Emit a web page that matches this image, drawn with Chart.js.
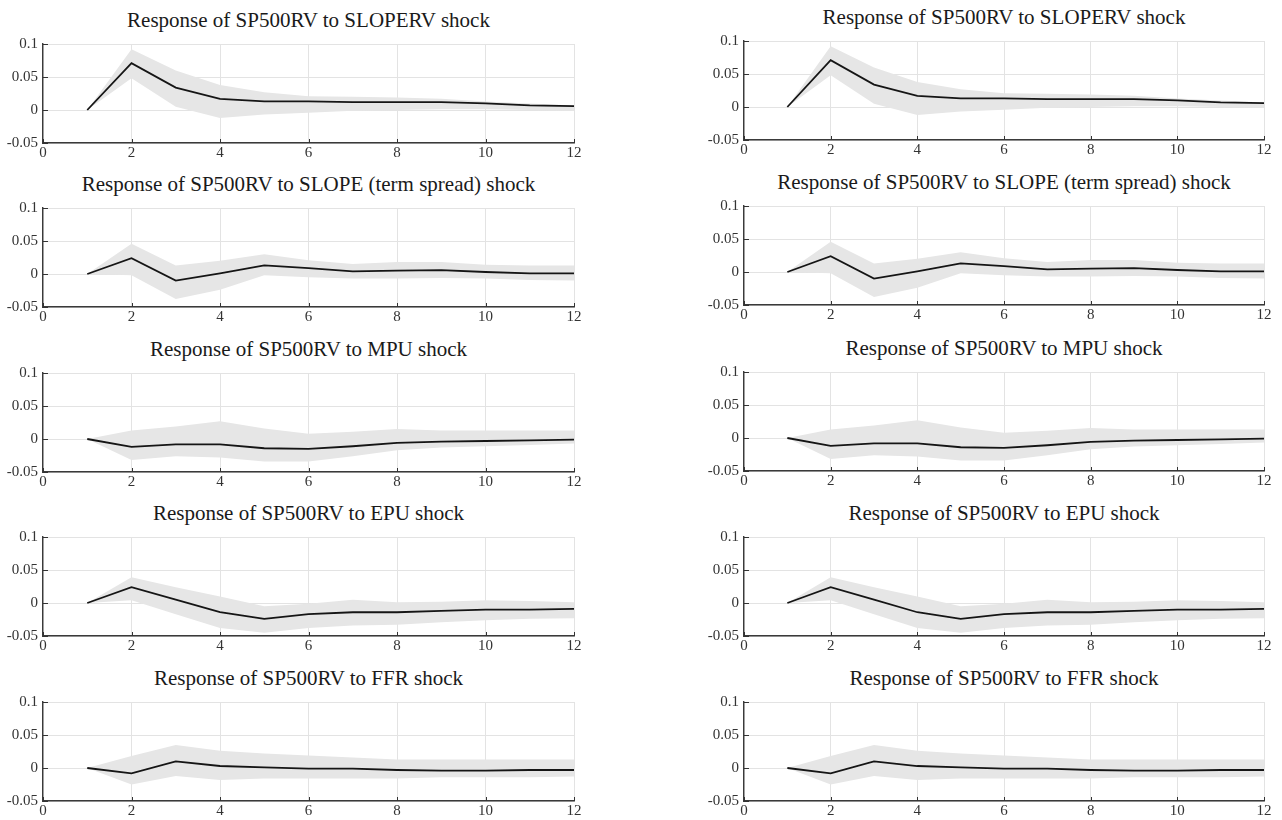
<!DOCTYPE html>
<html>
<head>
<meta charset="utf-8">
<script src="https://cdn.jsdelivr.net/npm/chart.js@4/dist/chart.umd.min.js"></script>
<style>
  body { margin: 0; background: #fff; width: 1282px; height: 820px; position: relative; overflow: hidden; }
  .panel-title { position: absolute; text-align: center; font-family: "Liberation Serif", serif; font-size: 21px; line-height: 20px; color: #1a1a1a; white-space: nowrap; }
  .panel { position: absolute; }
</style>
</head>
<body>
<script>
// horizons
const horizons = [1, 2, 3, 4, 5, 6, 7, 8, 9, 10, 11, 12];
const xTicks = [0, 2, 4, 6, 8, 10, 12];
const yTicks = [-0.05, 0, 0.05, 0.1];

const titles = [
    "Response of SP500RV to SLOPERV shock",
    "Response of SP500RV to SLOPE (term spread) shock",
    "Response of SP500RV to MPU shock",
    "Response of SP500RV to EPU shock",
    "Response of SP500RV to FFR shock"
];

// point responses
const irfSloperv = [0, 0.071, 0.034, 0.017, 0.013, 0.013, 0.012, 0.012, 0.012, 0.010, 0.007, 0.006];
const irfSlope   = [0, 0.024, -0.010, 0.001, 0.013, 0.009, 0.004, 0.005, 0.006, 0.003, 0.001, 0.001];
const irfMpu     = [0, -0.012, -0.008, -0.008, -0.014, -0.015, -0.011, -0.006, -0.004, -0.003, -0.002, -0.001];
const irfEpu     = [0, 0.024, 0.005, -0.014, -0.024, -0.017, -0.014, -0.014, -0.012, -0.010, -0.010, -0.009];
const irfFfr     = [0, -0.008, 0.010, 0.003, 0.001, -0.001, -0.001, -0.003, -0.004, -0.004, -0.003, -0.003];

// upper bands
const upSloperv = [0, 0.092, 0.060, 0.038, 0.027, 0.021, 0.020, 0.019, 0.017, 0.013, 0.010, 0.007];
const upSlope   = [0, 0.046, 0.013, 0.020, 0.030, 0.021, 0.015, 0.018, 0.018, 0.014, 0.013, 0.013];
const upMpu     = [0, 0.013, 0.019, 0.027, 0.016, 0.008, 0.011, 0.015, 0.013, 0.013, 0.013, 0.013];
const upEpu     = [0, 0.039, 0.024, 0.010, -0.005, -0.001, 0.005, 0.001, 0.002, 0.004, 0.003, 0.001];
const upFfr     = [0, 0.018, 0.035, 0.026, 0.022, 0.019, 0.016, 0.013, 0.013, 0.013, 0.013, 0.013];

// lower bands
const loSloperv = [0, 0.048, 0.005, -0.012, -0.007, -0.004, -0.001, 0.000, 0.001, 0.001, 0.000, -0.001];
const loSlope   = [0, -0.002, -0.038, -0.024, -0.002, -0.005, -0.007, -0.007, -0.006, -0.007, -0.009, -0.010];
const loMpu     = [0, -0.032, -0.026, -0.028, -0.034, -0.034, -0.026, -0.017, -0.013, -0.011, -0.009, -0.007];
const loEpu     = [0, 0.004, -0.017, -0.038, -0.045, -0.038, -0.034, -0.033, -0.029, -0.026, -0.024, -0.023];
const loFfr     = [0, -0.025, -0.012, -0.018, -0.016, -0.016, -0.016, -0.016, -0.014, -0.014, -0.014, -0.013];

const irfs = [irfSloperv, irfSlope, irfMpu, irfEpu, irfFfr];
const ups = [upSloperv, upSlope, upMpu, upEpu, upFfr];
const los = [loSloperv, loSlope, loMpu, loEpu, loFfr];

// panel geometry (plot area)
const columns = [
    { left: 43, width: 531, tops: [38, 202, 367, 531, 696] },
    { left: 744, width: 520, tops: [35, 200, 366, 531, 696] }
];
const plotH = 105;
const axisW = 43, axisH = 20, padTop = 8, padRight = 14;

// small inward tick marks like matlab
const inwardTicks = {
    id: 'inwardTicks',
    afterDraw(chart) {
        let ctx = chart.ctx;
        let a = chart.chartArea;
        let xs = chart.scales.x, ys = chart.scales.y;
        ctx.save();
        ctx.strokeStyle = '#333';
        ctx.lineWidth = 1;
        ctx.beginPath();
        xTicks.forEach(v => {
            let px = Math.round(xs.getPixelForValue(v)) + 0.5;
            ctx.moveTo(px, a.bottom);
            ctx.lineTo(px, a.bottom - 4);
        });
        yTicks.forEach(v => {
            let py = Math.round(ys.getPixelForValue(v)) + 0.5;
            ctx.moveTo(a.left, py);
            ctx.lineTo(a.left + 5, py);
        });
        ctx.stroke();
        ctx.restore();
    }
};

function toPoints(arr) {
    return horizons.map((h, i) => ({ x: h, y: arr[i] }));
}

function makePanel(col, row) {
    let c = columns[col];
    let top = c.tops[row];

    let t = document.createElement('div');
    t.className = 'panel-title';
    t.style.left = c.left + 'px';
    t.style.width = c.width + 'px';
    t.style.top = (top - 28) + 'px';
    t.innerText = titles[row];
    document.body.appendChild(t);

    let wrap = document.createElement('div');
    wrap.className = 'panel';
    let w = axisW + c.width + padRight;
    let h = padTop + plotH + axisH;
    wrap.style.left = (c.left - axisW) + 'px';
    wrap.style.top = (top - padTop) + 'px';
    wrap.style.width = w + 'px';
    wrap.style.height = h + 'px';
    let canvas = document.createElement('canvas');
    wrap.appendChild(canvas);
    document.body.appendChild(wrap);

    new Chart(canvas.getContext('2d'), {
        type: 'line',
        data: {
            datasets: [
                {
                    data: toPoints(irfs[row]),
                    borderColor: '#151515',
                    borderWidth: 1.8,
                    pointRadius: 0,
                    fill: false,
                    tension: 0,
                    order: 0
                },
                {
                    data: toPoints(ups[row]),
                    borderWidth: 0,
                    borderColor: 'rgba(0,0,0,0)',
                    backgroundColor: '#e6e6e6',
                    pointRadius: 0,
                    fill: '+1',
                    tension: 0,
                    order: 1
                },
                {
                    data: toPoints(los[row]),
                    borderWidth: 0,
                    borderColor: 'rgba(0,0,0,0)',
                    pointRadius: 0,
                    fill: false,
                    tension: 0,
                    order: 2
                }
            ]
        },
        options: {
            responsive: true,
            maintainAspectRatio: false,
            animation: false,
            layout: { padding: { top: padTop, right: padRight, left: 0, bottom: 0 } },
            plugins: {
                legend: { display: false },
                tooltip: { enabled: false },
                filler: { drawTime: 'beforeDatasetsDraw' }
            },
            scales: {
                x: {
                    type: 'linear',
                    min: 0,
                    max: 12,
                    afterBuildTicks: s => { s.ticks = xTicks.map(v => ({ value: v })); },
                    afterFit: s => { s.height = axisH; },
                    grid: { color: '#e3e3e3', lineWidth: 1, drawTicks: false },
                    border: { color: '#3a3a3a', width: 1.4 },
                    ticks: {
                        font: { family: 'Liberation Serif', size: 15 },
                        color: '#333',
                        padding: 1,
                        maxRotation: 0,
                        autoSkip: false
                    }
                },
                y: {
                    min: -0.05,
                    max: 0.1,
                    afterBuildTicks: s => { s.ticks = yTicks.map(v => ({ value: v })); },
                    afterFit: s => { s.width = axisW; },
                    grid: { color: '#e3e3e3', lineWidth: 1, drawTicks: false },
                    border: { color: '#3a3a3a', width: 1.4 },
                    ticks: {
                        font: { family: 'Liberation Serif', size: 15 },
                        color: '#333',
                        padding: 5,
                        callback: v => String(+v.toFixed(2))
                    }
                }
            }
        },
        plugins: [inwardTicks]
    });
}

for (let col = 0; col < 2; col++) {
    for (let row = 0; row < 5; row++) {
        makePanel(col, row);
    }
}
</script>
</body>
</html>
